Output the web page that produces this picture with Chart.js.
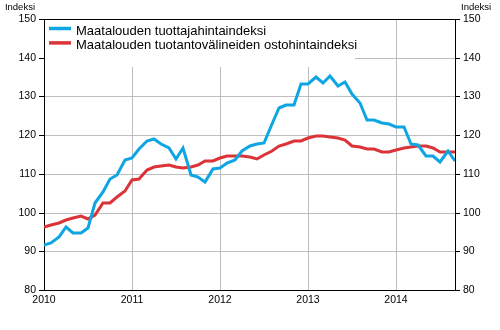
<!DOCTYPE html>
<html>
<head>
<meta charset="utf-8">
<script src="https://cdn.jsdelivr.net/npm/chart.js@4"></script>
<style>
html, body { margin: 0; padding: 0; background: #fff; }
</style>
</head>
<body>
<canvas id="chart" width="500" height="330"></canvas>
<script>
// ===== DATA (monthly, Jan 2010 - Sep 2014) =====
const yearLabels = ['2010', '2011', '2012', '2013', '2014'];

const seriesNames = [
    'Maatalouden tuottajahintaindeksi',
    'Maatalouden tuotantovälineiden ostohintaindeksi'
];

const producerIndex = [
    91.6, 92.2, 93.8, 96.4, 94.8, 94.8, 95.9, 102.4, 105.4, 108.7, 109.7, 113.5,
    114.2, 116.4, 118.4, 119.0, 117.8, 116.6, 113.8, 116.6, 109.6, 109.1, 108.0, 111.2,
    111.5, 112.8, 113.6, 115.8, 117.3, 117.6, 117.9, 122.9, 127.0, 127.8, 127.8, 133.2,
    133.2, 135.0, 133.4, 135.3, 132.8, 133.7, 130.6, 128.3, 123.8, 124.0, 123.1, 122.9,
    122.2, 122.1, 117.8, 117.4, 114.5, 114.5, 113.1, 115.9, 113.2
];

const inputIndex = [
    96.4, 96.7, 97.4, 98.1, 98.7, 99.1, 98.4, 99.3, 102.6, 102.6, 104.0, 105.7,
    108.4, 108.7, 110.9, 111.8, 112.1, 112.3, 111.9, 111.6, 111.7, 112.3, 113.2, 113.3,
    114.1, 114.5, 114.7, 114.7, 114.3, 113.8, 114.9, 115.9, 117.1, 117.8, 118.4, 118.4,
    119.3, 119.7, 119.7, 119.5, 119.2, 118.8, 117.1, 117.0, 116.5, 116.4, 115.7, 115.7,
    116.2, 116.6, 116.9, 117.1, 117.2, 116.6, 115.7, 115.7, 115.7
];

const colors = ['#0ea5e3', '#dc3338'];
const tickFont = { family: '"Liberation Sans", Arial, sans-serif', size: 10.5 };
const gridColor = '#bebebe';

const toPoints = arr => arr.map((v, i) => ({ x: i, y: v }));

// legend inside plot, top border, "Indeksi" titles
const extras = {
    id: 'extras',
    afterDraw(chart) {
        const { ctx, chartArea: a } = chart;
        ctx.save();
        ctx.fillStyle = '#fff';
        ctx.fillRect(a.left + 1, a.top + 1, 310, 47);

        chart.data.datasets.forEach((ds, i) => {
            const y = a.top + 9.5 + i * 14.4;
            ctx.strokeStyle = ds.borderColor;
            ctx.lineWidth = 3.5;
            ctx.beginPath();
            ctx.moveTo(a.left + 5, y);
            ctx.lineTo(a.left + 27, y);
            ctx.stroke();
            ctx.fillStyle = '#000';
            ctx.font = '13px "Liberation Sans", Arial, sans-serif';
            ctx.textBaseline = 'alphabetic';
            ctx.textAlign = 'left';
            ctx.fillText(ds.label, a.left + 32, a.top + 16 + i * 14.4);
        });

        ctx.fillStyle = '#000';
        ctx.fillRect(a.left, a.top, a.right - a.left, 1);

        ctx.font = '9.5px "Liberation Sans", Arial, sans-serif';
        ctx.textBaseline = 'alphabetic';
        ctx.textAlign = 'right';
        ctx.fillText('Indeksi', a.left - 9, 10);
        ctx.textAlign = 'left';
        ctx.fillText('Indeksi', a.right + 6, 10);
        ctx.restore();
    }
};

const yAxis = (position) => ({
    type: 'linear',
    position,
    min: 80,
    max: 150,
    alignToPixels: true,
    border: { color: '#000', width: 1 },
    grid: {
        color: gridColor,
        tickColor: '#000',
        tickLength: 5,
        drawOnChartArea: position === 'left',
    },
    ticks: { stepSize: 10, color: '#000', font: tickFont, padding: 3 },
    afterFit(scale) { scale.width = position === 'left' ? 44 : 45; }
});

new Chart(document.getElementById('chart').getContext('2d'), {
    type: 'line',
    data: {
        datasets: [
            { label: seriesNames[0], data: toPoints(producerIndex), borderColor: colors[0], borderWidth: 3, pointRadius: 0, tension: 0, yAxisID: 'y' },
            { label: seriesNames[1], data: toPoints(inputIndex), borderColor: colors[1], borderWidth: 3, pointRadius: 0, tension: 0, yAxisID: 'y' },
        ]
    },
    options: {
        responsive: false,
        animation: false,
        devicePixelRatio: 1,
        layout: { padding: { top: 19, left: 0, right: 0, bottom: 0 } },
        plugins: { legend: { display: false }, tooltip: { enabled: false } },
        scales: {
            x: {
                type: 'linear',
                min: 0,
                max: producerIndex.length - 1,
                alignToPixels: true,
                border: { color: '#000', width: 1 },
                grid: { color: gridColor, drawTicks: false },
                ticks: {
                    stepSize: 12,
                    includeBounds: false,
                    color: '#000',
                    font: tickFont,
                    padding: 4,
                    maxRotation: 0,
                    callback: v => yearLabels[v / 12] || ''
                },
                afterFit(scale) { scale.height = 40; }
            },
            y: yAxis('left'),
            y2: yAxis('right'),
        }
    },
    plugins: [extras]
});
</script>
</body>
</html>
